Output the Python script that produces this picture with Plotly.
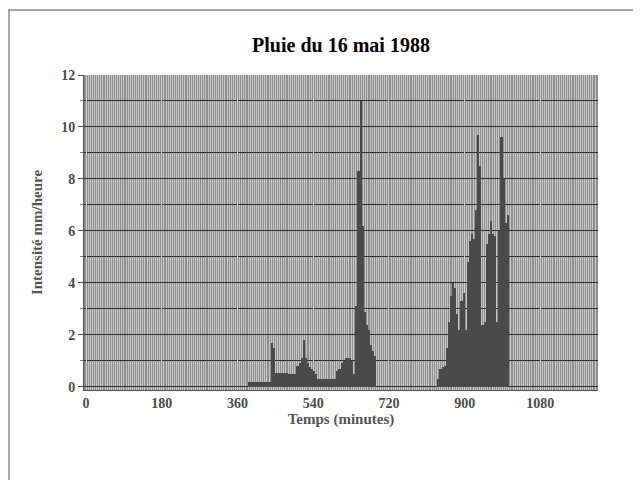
import plotly.graph_objects as go

# Rain intensity (mm/heure) per 5-minute interval, start time in minutes
temps = [385, 390, 395, 400, 405, 410, 415, 420, 425, 430, 435,
         440, 445, 450, 455, 460, 465, 470, 475, 480, 485, 490, 495,
         500, 505, 510, 515, 520, 525, 530, 535, 540, 545,
         550, 555, 560, 565, 570, 575, 580, 585, 590,
         595, 600, 605, 610, 615, 620, 625, 630, 635,
         640, 645, 650, 655, 660, 665, 670, 675, 680, 685,
         835, 840, 845, 850, 855, 860, 865, 870, 875, 880, 885,
         890, 895, 900, 905, 910, 915, 920, 925, 930, 935, 940,
         945, 950, 955, 960, 965, 970, 975, 980, 985, 990, 995, 1000]
intensite = [0.2, 0.2, 0.2, 0.2, 0.2, 0.2, 0.2, 0.2, 0.2, 0.2, 0.2,
             1.7, 1.5, 0.55, 0.55, 0.55, 0.55, 0.55, 0.55, 0.5, 0.5, 0.5, 0.5,
             0.8, 0.9, 1.1, 1.8, 1.1, 0.9, 0.75, 0.7, 0.6, 0.5,
             0.3, 0.3, 0.3, 0.3, 0.3, 0.3, 0.3, 0.3, 0.3,
             0.6, 0.7, 0.9, 1.0, 1.1, 1.1, 1.1, 1.0, 0.5,
             3.1, 8.3, 11.0, 6.2, 2.9, 2.4, 2.2, 1.6, 1.4, 1.2,
             0.3, 0.7, 0.75, 0.8, 1.5, 2.5, 3.5, 4.0, 3.8, 2.8, 2.2,
             3.3, 3.6, 2.2, 4.8, 5.6, 5.9, 5.7, 6.8, 9.7, 8.5, 2.4,
             2.5, 5.5, 5.9, 6.4, 5.9, 5.8, 2.5, 6.0, 9.6, 8.0, 6.3, 6.6]

x_ticks = [0, 180, 360, 540, 720, 900, 1080]
y_ticks = [0, 2, 4, 6, 8, 10, 12]

font_family = "Liberation Serif, Times New Roman, serif"

fig = go.Figure()
fig.add_trace(go.Bar(
    x=temps, y=intensite, width=5, offset=0,
    marker=dict(color="#4a4a4a", line=dict(width=0)),
    showlegend=False,
))

L, R, T, B = 76, 51, 67, 98
plot_w = 641 - L - R
plot_h = 480 - T - B

fig.update_layout(
    width=641, height=480,
    paper_bgcolor="white",
    plot_bgcolor="#8e8e8e",
    margin=dict(l=L, r=R, t=T, b=B, autoexpand=False),
    bargap=0,
    title=dict(text="<b>Pluie du 16 mai 1988</b>", x=333 / 641, xanchor="center",
               xref="container", yref="container",
               y=1 - 37 / 480, yanchor="middle",
               font=dict(family=font_family, size=20, color="black")),
    font=dict(family=font_family),
    shapes=[
        dict(type="line", xref="paper", yref="paper", x0=-L / plot_w, x1=(641 - L) / plot_w,
             y0=1 + (T - 2) / plot_h, y1=1 + (T - 2) / plot_h,
             line=dict(color="#8a8a8a", width=1.5)),
        dict(type="line", xref="paper", yref="paper", x0=(1 - L) / plot_w, x1=(1 - L) / plot_w,
             y0=1 + (T - 2) / plot_h, y1=-B / plot_h,
             line=dict(color="#8a8a8a", width=1.5)),
    ],
)

fig.update_xaxes(
    range=[-5, 1217],
    tickvals=x_ticks,
    ticktext=["<b>%d</b>" % v for v in x_ticks],
    tickfont=dict(family=font_family, size=14, color="#4a4a4a"),
    ticks="", showline=True, linecolor="#555555", linewidth=1,
    showgrid=True, gridcolor="#cfcfcf", gridwidth=1,
    minor=dict(dtick=5, tick0=0, showgrid=True, gridcolor="#c8c8c8", gridwidth=0.8),
    zeroline=False, automargin=False,
    title=dict(text="<b>Temps (minutes)</b>", standoff=0,
               font=dict(family=font_family, size=15, color="#555555")),
)

fig.update_yaxes(
    range=[-0.12, 12],
    tickvals=y_ticks,
    ticktext=["<b>%d</b>" % v for v in y_ticks],
    tickfont=dict(family=font_family, size=14, color="#4a4a4a"),
    ticks="outside", ticklen=5, tickcolor="#555555",
    showline=True, linecolor="#555555", linewidth=1,
    showgrid=True, gridcolor="#2e2e2e", gridwidth=1.2,
    minor=dict(dtick=1, tick0=0, showgrid=True, gridcolor="#2e2e2e", gridwidth=1.2,
               ticks="outside", ticklen=3, tickcolor="#777777"),
    zeroline=False, automargin=False,
    title=dict(text="<b>Intensité mm/heure</b>", standoff=14,
               font=dict(family=font_family, size=15, color="#555555")),
)

fig.write_html("out.html")
